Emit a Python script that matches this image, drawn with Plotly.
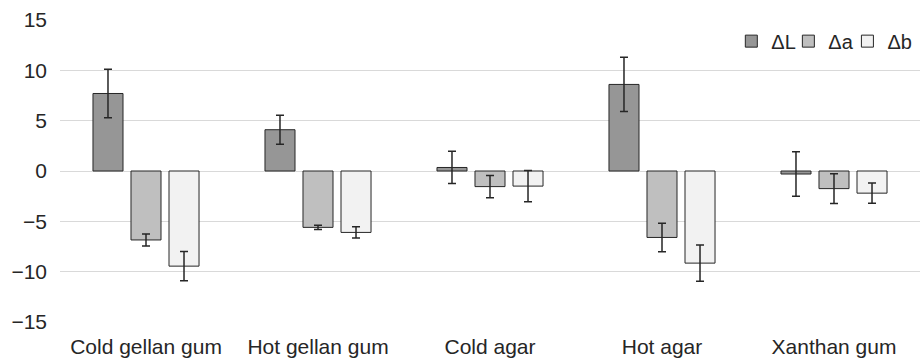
import plotly.graph_objects as go

categories = ["Cold gellan gum", "Hot gellan gum", "Cold agar", "Hot agar", "Xanthan gum"]
series_names = ["ΔL", "Δa", "Δb"]
dL = [7.7, 4.1, 0.35, 8.6, -0.3]
dL_err = [2.4, 1.45, 1.6, 2.7, 2.2]
da = [-6.85, -5.6, -1.55, -6.6, -1.75]
da_err = [0.6, 0.22, 1.1, 1.42, 1.48]
db = [-9.45, -6.1, -1.5, -9.15, -2.2]
db_err = [1.45, 0.55, 1.55, 1.8, 1.0]
y_ticks = [-15, -10, -5, 0, 5, 10, 15]

colors = ["#969696", "#bfbfbf", "#f2f2f2"]
values = [dL, da, db]
errors = [dL_err, da_err, db_err]
legend_ids = ["legend", "legend2", "legend3"]
legend_x = [0.862, 0.9295, 0.997]

fig = go.Figure()
for name, vals, errs, col, lid in zip(series_names, values, errors, colors, legend_ids):
    fig.add_trace(go.Bar(
        x=categories, y=vals, name=name, legend=lid,
        marker=dict(color=col, line=dict(color="#262626", width=1)),
        error_y=dict(type="data", array=errs, visible=True,
                     color="#262626", thickness=1.5, width=4),
    ))

legend_style = dict(orientation="h", xanchor="right", y=0.93, yanchor="middle",
                    font=dict(size=20), itemwidth=30,
                    bgcolor="rgba(0,0,0,0)")
fig.update_layout(
    width=924, height=362,
    margin=dict(l=60, r=4, t=20, b=37),
    plot_bgcolor="white", paper_bgcolor="white",
    barmode="group", bargap=0.337, bargroupgap=0.21,
    font=dict(family="Liberation Sans, Arial, sans-serif", size=21, color="#262626"),
    legend=dict(x=legend_x[0], **legend_style),
    legend2=dict(x=legend_x[1], **legend_style),
    legend3=dict(x=legend_x[2], **legend_style),
    showlegend=True,
)
fig.update_yaxes(range=[-15, 15], tickvals=y_ticks, showgrid=True,
                 gridcolor="#d9d9d9", gridwidth=1, zeroline=True,
                 zerolinecolor="#d9d9d9", zerolinewidth=1, showline=False,
                 ticklabelstandoff=12)
fig.update_xaxes(showgrid=False, showline=False, ticks="", ticklabelstandoff=10)

fig.write_html("out.html")
